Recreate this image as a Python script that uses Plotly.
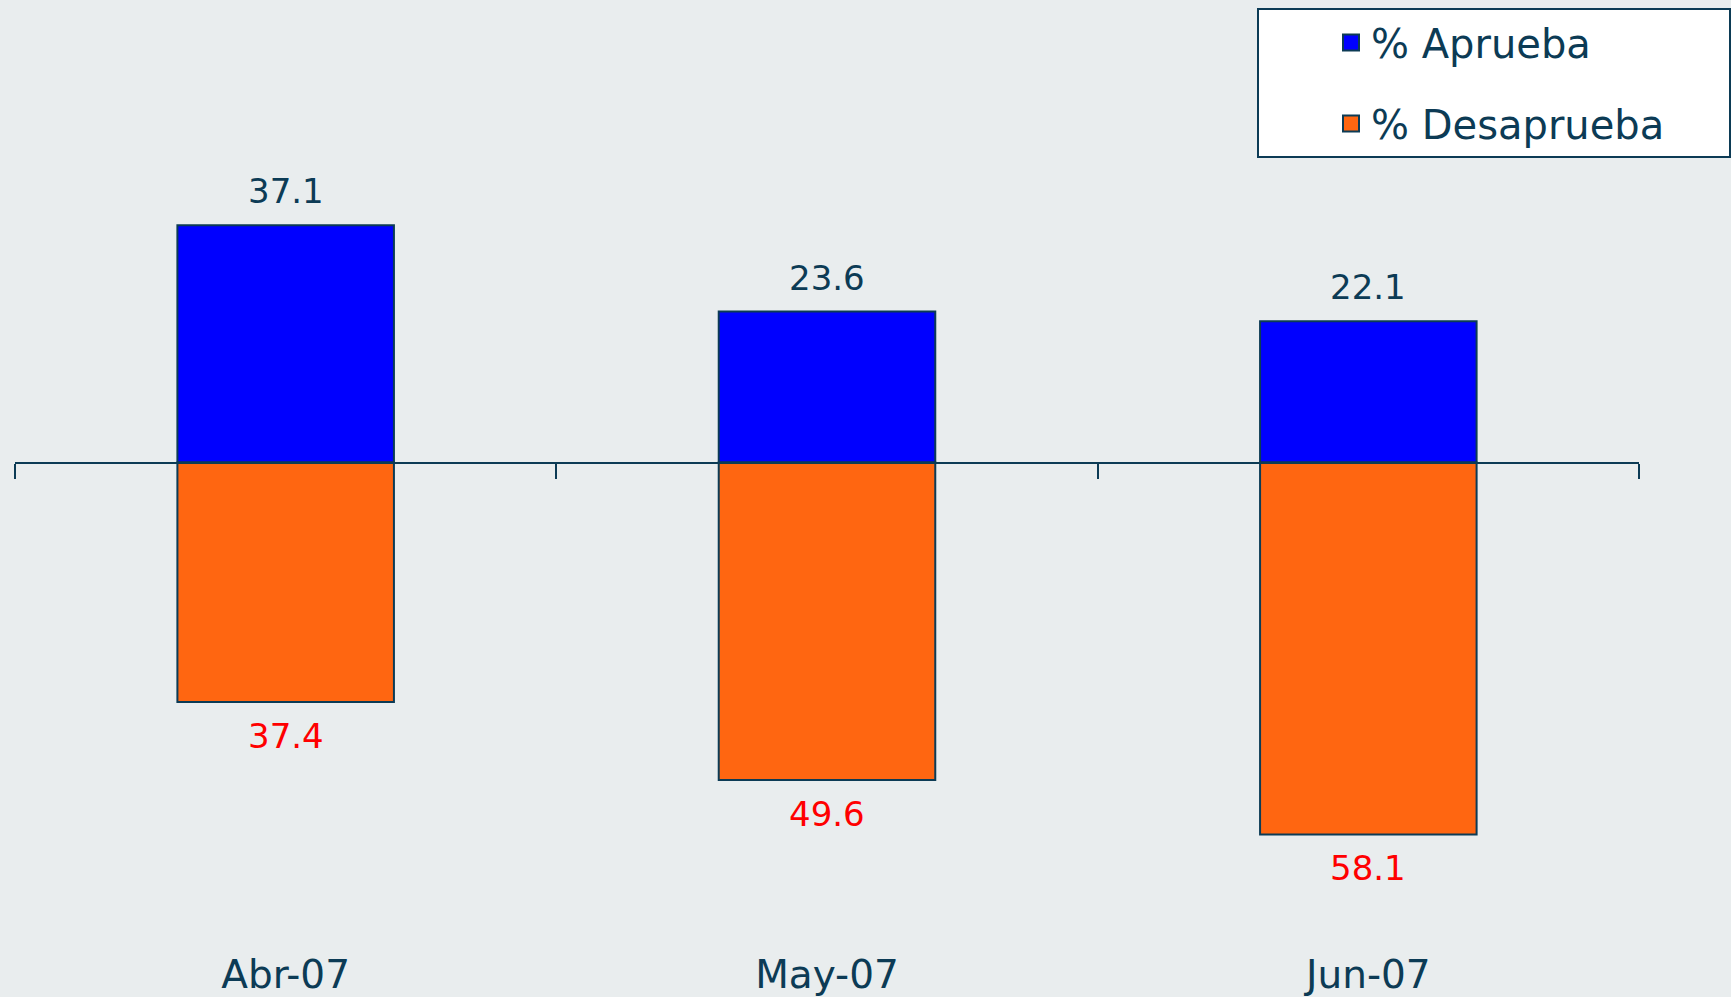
import plotly.graph_objects as go

months = ["Abr-07", "May-07", "Jun-07"]
aprueba = [37.1, 23.6, 22.1]
desaprueba = [37.4, 49.6, 58.1]
series_names = ["% Aprueba", "% Desaprueba"]

BLUE = "#0000ff"
ORANGE = "#ff6611"
INK = "#0c3b55"
BG = "#e9edee"
FONT = "DejaVu Sans"

W, H = 1731, 997
ML, MR, MT, MB = 15, 92, 0, 49
px_per_unit = 6.40
zero_px = 462.6
plot_h = H - MT - MB
ymax = (zero_px - MT) / px_per_unit
ymin = -(plot_h - (zero_px - MT)) / px_per_unit

xs = list(range(len(months)))

fig = go.Figure()
fig.add_trace(go.Bar(x=xs, y=aprueba, width=0.4, marker=dict(color=BLUE, line=dict(color=INK, width=2)),
                     showlegend=False, hoverinfo="skip"))
fig.add_trace(go.Bar(x=xs, y=[-v for v in desaprueba], width=0.4,
                     marker=dict(color=ORANGE, line=dict(color=INK, width=2)),
                     showlegend=False, hoverinfo="skip"))

# legend entries
for name, col in zip(series_names, [BLUE, ORANGE]):
    fig.add_trace(go.Scatter(x=[None], y=[None], xaxis="x2", mode="markers",
                             name=name + "\u00a0" * 4 + "\u2009",
                             legendgroup=name,
                             marker=dict(symbol="square", size=16, color=col, line=dict(color=INK, width=2))))

ann = []
for i in xs:
    ann.append(dict(x=i, y=aprueba[i], xref="x", yref="y", text=f"{aprueba[i]:.1f}", showarrow=False,
                    yanchor="bottom", yshift=12, font=dict(family=FONT, size=34, color=INK)))
    ann.append(dict(x=i, y=-desaprueba[i], xref="x", yref="y", text=f"{desaprueba[i]:.1f}", showarrow=False,
                    yanchor="top", yshift=-12, font=dict(family=FONT, size=34, color="#ff0000")))

zero_pos = (0 - ymin) / (ymax - ymin)

fig.update_layout(
    width=W, height=H,
    margin=dict(l=ML, r=MR, t=MT, b=MB, pad=0, autoexpand=False),
    paper_bgcolor=BG, plot_bgcolor=BG,
    barmode="relative",
    font=dict(family=FONT, color=INK),
    annotations=ann,
    xaxis=dict(range=[-0.5, len(months) - 0.5], tickvals=xs, ticktext=months, showline=False,
               ticks="", showgrid=False, zeroline=False, tickfont=dict(size=39, color=INK)),
    xaxis2=dict(overlaying="x", anchor="free", position=zero_pos, side="bottom",
                range=[-0.5, len(months) - 0.5], tickvals=[i - 0.5 for i in range(len(months) + 1)],
                showticklabels=False, ticks="outside", ticklen=15, tickwidth=2, tickcolor=INK,
                showline=True, linecolor=INK, linewidth=2, showgrid=False, zeroline=False),
    yaxis=dict(range=[ymin, ymax], visible=False, showgrid=False, zeroline=False),
    legend=dict(xref="container", yref="container", x=1257 / W, y=1 - 8 / H,
                xanchor="left", yanchor="top",
                bgcolor="#ffffff", bordercolor=INK, borderwidth=2, indentation=72,
                tracegroupgap=26, font=dict(size=40, color=INK), itemsizing="trace"),
)

fig.write_html("out.html", config={"displayModeBar": False},
               post_script="document.body.style.margin='0';document.body.style.overflow='hidden';"
                           "document.body.style.background='#e9edee';")
